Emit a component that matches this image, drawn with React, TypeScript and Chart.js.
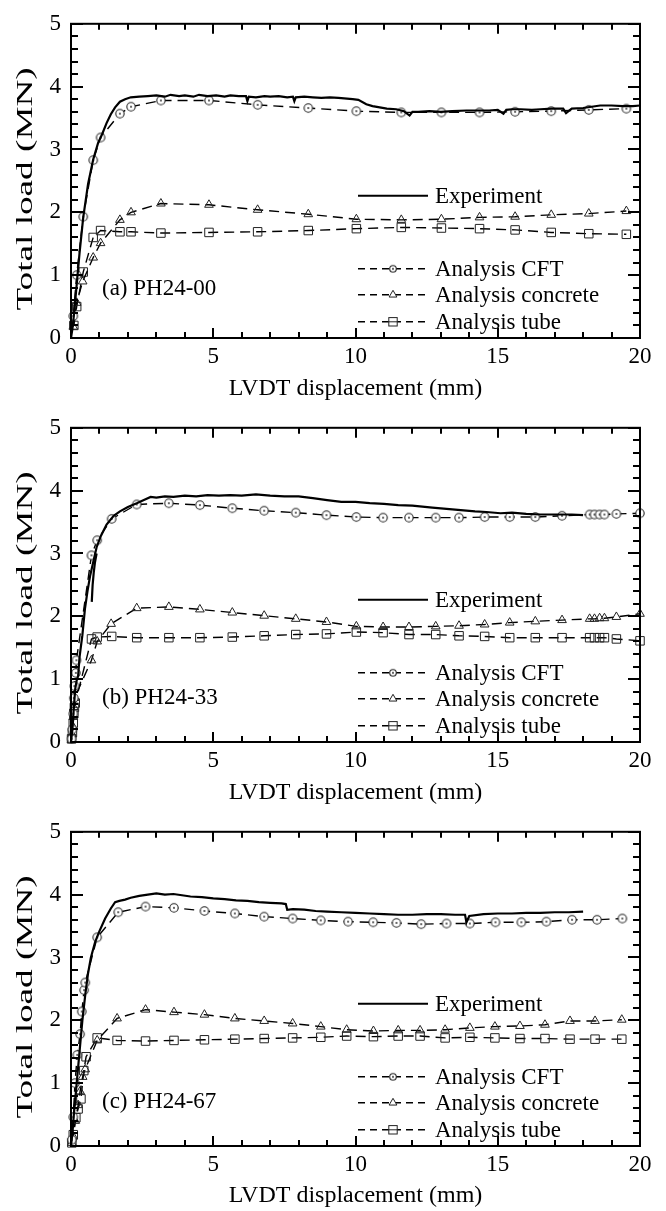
import React, { useEffect, useRef } from "react";
import { Chart, registerables } from "chart.js";

Chart.register(...registerables);

// ---------------- Axis ticks ----------------
const xTicks = [0, 5, 10, 15, 20];
const yTicks = [0, 1, 2, 3, 4, 5];
const xMinorTicks = [0, 1, 2, 3, 4, 5, 6, 7, 8, 9, 10, 11, 12, 13, 14, 15, 16, 17, 18, 19, 20];
const yMinorTicks = [0, 0.2, 0.4, 0.6, 0.8, 1, 1.2, 1.4, 1.6, 1.8, 2, 2.2, 2.4, 2.6, 2.8, 3, 3.2, 3.4, 3.6, 3.8, 4, 4.2, 4.4, 4.6, 4.8, 5];

const legendLabels = ["Experiment", "Analysis CFT", "Analysis concrete", "Analysis tube"];
const panelTitles = ["(a) PH24-00", "(b) PH24-33", "(c) PH24-67"];
const xAxisTitle = "LVDT displacement (mm)";
const yAxisTitle = "Total load (MN)";

// ---------------- Panel (a) PH24-00 ----------------
const expA_x = [0, 0.05, 0.1, 0.2, 0.3, 0.43, 0.6, 0.78, 0.95, 1.1, 1.25, 1.4, 1.55, 1.72, 1.9, 2.1, 2.4, 2.7, 3.0, 3.3, 3.5, 3.8, 4.0, 4.3, 4.5, 4.8, 5.1, 5.4, 5.6, 5.9, 6.15, 6.2, 6.25, 6.5, 6.8, 7.0, 7.3, 7.6, 7.8, 7.85, 7.9, 8.2, 8.5, 8.8, 9.1, 9.4, 9.7, 9.9, 10.1, 10.38, 10.6, 10.85, 11.1, 11.43, 11.7, 11.9, 12.0, 12.2, 12.6, 13.0, 13.4, 13.9, 14.3, 14.7, 15.0, 15.2, 15.3, 15.5, 15.8, 16.2, 16.5, 16.9, 17.3, 17.4, 17.6, 18.0, 18.3, 18.6, 19.0, 19.4, 19.75, 20.0];
const expA_y = [0, 0.15, 0.35, 0.85, 1.35, 1.92, 2.45, 2.84, 3.1, 3.25, 3.42, 3.56, 3.67, 3.76, 3.8, 3.83, 3.84, 3.85, 3.86, 3.84, 3.87, 3.85, 3.86, 3.84, 3.87, 3.85, 3.86, 3.84, 3.86, 3.85, 3.85, 3.77, 3.84, 3.83, 3.85, 3.84, 3.85, 3.83, 3.84, 3.77, 3.83, 3.84, 3.83, 3.82, 3.83, 3.82, 3.81, 3.8, 3.79, 3.72, 3.69, 3.67, 3.65, 3.64, 3.61, 3.54, 3.6, 3.6, 3.61, 3.6, 3.61, 3.62, 3.62, 3.62, 3.63, 3.57, 3.63, 3.64, 3.64, 3.63, 3.64, 3.65, 3.65, 3.58, 3.65, 3.66, 3.68, 3.7, 3.7, 3.69, 3.69, 3.7];

const cftA_x = [0.08, 0.2, 0.43, 0.78, 1.04, 1.72, 2.11, 3.16, 4.85, 6.56, 8.34, 10.03, 11.61, 13.02, 14.36, 15.61, 16.88, 18.2, 19.52];
const cftA_y = [0.35, 1.0, 1.93, 2.83, 3.19, 3.57, 3.68, 3.78, 3.78, 3.71, 3.66, 3.61, 3.59, 3.59, 3.59, 3.6, 3.61, 3.63, 3.65];

const conA_x = [0.08, 0.2, 0.41, 0.78, 1.04, 1.72, 2.11, 3.16, 4.85, 6.56, 8.34, 10.03, 11.61, 13.02, 14.36, 15.61, 16.88, 18.2, 19.52];
const conA_y = [0.18, 0.56, 0.9, 1.28, 1.51, 1.88, 2.0, 2.14, 2.12, 2.04, 1.97, 1.89, 1.88, 1.89, 1.92, 1.93, 1.96, 1.98, 2.02];

const tubA_x = [0.1, 0.2, 0.43, 0.78, 1.04, 1.72, 2.11, 3.16, 4.85, 6.56, 8.34, 10.03, 11.61, 13.02, 14.36, 15.61, 16.88, 18.2, 19.52];
const tubA_y = [0.2, 0.5, 1.05, 1.6, 1.71, 1.69, 1.69, 1.67, 1.68, 1.69, 1.71, 1.74, 1.76, 1.75, 1.74, 1.72, 1.68, 1.66, 1.65];

// ---------------- Panel (b) PH24-33 ----------------
const expB_x = [0, 0.05, 0.1, 0.15, 0.2, 0.25, 0.3, 0.4, 0.49, 0.58, 0.67, 0.8, 0.9, 1.05, 1.25, 1.5, 1.72, 2.0, 2.31, 2.6, 2.8, 3.0, 3.3, 3.6, 4.0, 4.4, 4.8, 5.2, 5.6, 6.0, 6.5, 7.0, 7.5, 8.0, 8.5, 9.0, 9.5, 10.0, 10.5, 11.0, 11.5, 12.0, 12.7, 13.2, 13.7, 14.2, 14.6, 15.1, 15.5, 16.0, 16.5, 17.0, 17.6, 18.0];
const expB_y = [0, 0.2, 0.55, 0.85, 0.98, 1.05, 1.35, 1.7, 2.12, 2.4, 2.64, 2.9, 3.1, 3.28, 3.46, 3.6, 3.67, 3.74, 3.8, 3.86, 3.9, 3.89, 3.91, 3.9, 3.92, 3.91, 3.93, 3.92, 3.93, 3.92, 3.94, 3.92, 3.91, 3.91, 3.88, 3.85, 3.82, 3.82, 3.8, 3.79, 3.77, 3.76, 3.73, 3.71, 3.69, 3.67, 3.66, 3.64, 3.65, 3.63, 3.62, 3.62, 3.62, 3.61];
const expB2_x = [0.73, 0.76, 0.8, 0.84, 0.9];
const expB2_y = [2.23, 2.5, 2.7, 2.85, 3.0];

const cftB_x = [0.02, 0.05, 0.08, 0.1, 0.12, 0.17, 0.19, 0.72, 0.92, 1.43, 2.31, 3.44, 4.53, 5.67, 6.79, 7.9, 8.98, 10.03, 10.97, 11.88, 12.82, 13.64, 14.54, 15.42, 16.32, 17.26, 18.23, 18.4, 18.58, 18.75, 19.17, 20.0];
const cftB_y = [0.05, 0.2, 0.45, 0.7, 0.89, 1.1, 1.3, 2.97, 3.21, 3.55, 3.78, 3.8, 3.77, 3.72, 3.68, 3.65, 3.61, 3.58, 3.57, 3.57, 3.57, 3.57, 3.58, 3.58, 3.58, 3.6, 3.62, 3.62, 3.62, 3.62, 3.63, 3.64];

const conB_x = [0.02, 0.04, 0.06, 0.08, 0.1, 0.12, 0.72, 0.92, 1.41, 2.31, 3.44, 4.53, 5.67, 6.79, 7.9, 8.98, 10.03, 10.97, 11.88, 12.82, 13.64, 14.54, 15.42, 16.32, 17.26, 18.23, 18.4, 18.58, 18.75, 19.17, 20.0];
const conB_y = [0.03, 0.12, 0.25, 0.4, 0.55, 0.7, 1.3, 1.6, 1.88, 2.13, 2.15, 2.11, 2.06, 2.01, 1.96, 1.91, 1.84, 1.83, 1.83, 1.84, 1.85, 1.87, 1.9, 1.92, 1.94, 1.96, 1.96, 1.97, 1.97, 1.99, 2.04];

const tubB_x = [0.02, 0.05, 0.08, 0.1, 0.12, 0.15, 0.72, 0.92, 1.43, 2.31, 3.44, 4.53, 5.67, 6.79, 7.9, 8.98, 10.03, 10.97, 11.88, 12.82, 13.64, 14.54, 15.42, 16.32, 17.26, 18.23, 18.4, 18.58, 18.75, 19.17, 20.0];
const tubB_y = [0.05, 0.15, 0.3, 0.45, 0.55, 0.62, 1.64, 1.67, 1.68, 1.66, 1.66, 1.66, 1.67, 1.69, 1.71, 1.72, 1.75, 1.74, 1.71, 1.71, 1.69, 1.68, 1.66, 1.66, 1.66, 1.66, 1.66, 1.66, 1.66, 1.64, 1.61];

// ---------------- Panel (c) PH24-67 ----------------
const expC_x = [0, 0.05, 0.1, 0.2, 0.3, 0.4, 0.5, 0.6, 0.7, 0.85, 1.0, 1.2, 1.4, 1.55, 1.7, 1.9, 2.1, 2.4, 2.7, 3.0, 3.3, 3.6, 3.9, 4.2, 4.6, 5.0, 5.4, 5.8, 6.2, 6.6, 7.0, 7.4, 7.55, 7.6, 7.8, 8.2, 8.6, 9.0, 9.5, 10.0, 10.5, 11.0, 11.5, 12.0, 12.5, 13.0, 13.5, 13.85, 13.9, 14.0, 14.5, 15.0, 15.5, 16.0, 16.5, 17.0, 17.5, 18.0];
const expC_y = [0, 0.2, 0.5, 1.0, 1.5, 2.0, 2.4, 2.75, 3.0, 3.25, 3.42, 3.62, 3.78, 3.88, 3.9, 3.92, 3.95, 3.98, 4.0, 4.02, 4.0, 4.01, 3.99, 3.97, 3.96, 3.94, 3.93, 3.91, 3.9, 3.88, 3.87, 3.86, 3.85, 3.76, 3.77, 3.76, 3.74, 3.73, 3.72, 3.71, 3.7, 3.69, 3.68, 3.68, 3.69, 3.69, 3.68, 3.68, 3.56, 3.66, 3.69, 3.7, 3.7, 3.71, 3.71, 3.72, 3.72, 3.73];

const cftC_x = [0.03, 0.08, 0.14, 0.22, 0.32, 0.38, 0.46, 0.5, 0.92, 1.66, 2.62, 3.62, 4.69, 5.76, 6.79, 7.79, 8.78, 9.74, 10.62, 11.44, 12.31, 13.2, 14.02, 14.92, 15.83, 16.71, 17.61, 18.49, 19.38];
const cftC_y = [0.1, 0.46, 1.0, 1.45, 1.78, 2.14, 2.48, 2.6, 3.32, 3.72, 3.81, 3.79, 3.74, 3.7, 3.65, 3.62, 3.59, 3.57, 3.56, 3.55, 3.53, 3.54, 3.54, 3.56, 3.56, 3.57, 3.6, 3.6, 3.62];

const conC_x = [0.03, 0.08, 0.15, 0.25, 0.32, 0.41, 0.5, 0.92, 1.62, 2.62, 3.62, 4.69, 5.76, 6.79, 7.79, 8.78, 9.69, 10.63, 11.5, 12.27, 13.15, 14.02, 14.9, 15.78, 16.66, 17.54, 18.42, 19.36];
const conC_y = [0.05, 0.15, 0.4, 0.65, 0.87, 1.1, 1.22, 1.68, 2.03, 2.17, 2.13, 2.09, 2.03, 1.99, 1.95, 1.9, 1.85, 1.83, 1.84, 1.84, 1.85, 1.88, 1.9, 1.91, 1.93, 1.99, 1.99, 2.01];

const tubC_x = [0.03, 0.08, 0.17, 0.25, 0.35, 0.45, 0.53, 0.92, 1.62, 2.62, 3.62, 4.69, 5.76, 6.79, 7.79, 8.78, 9.69, 10.63, 11.5, 12.27, 13.15, 14.02, 14.9, 15.78, 16.66, 17.54, 18.42, 19.36];
const tubC_y = [0.05, 0.18, 0.45, 0.59, 0.75, 1.2, 1.42, 1.72, 1.68, 1.67, 1.68, 1.69, 1.7, 1.71, 1.72, 1.73, 1.75, 1.74, 1.75, 1.75, 1.72, 1.73, 1.72, 1.71, 1.71, 1.7, 1.7, 1.7];

// ---------------- Rendering ----------------
const FONT = "'Liberation Serif', 'Times New Roman', serif";
const TXT = "#000";
const PLOT_LEFT = 71;
const PLOT_RIGHT = 640;
const PLOT_TOP = 13;
const PLOT_BOTTOM = 338;
const DASH = [10, 6];

type PanelCfg = {
  title: string;
  exp: [number[], number[]][];
  cft: [number[], number[]];
  con: [number[], number[]];
  tub: [number[], number[]];
  labelDy: number;
};

const panels: PanelCfg[] = [
  { title: panelTitles[0], exp: [[expA_x, expA_y]], cft: [cftA_x, cftA_y], con: [conA_x, conA_y], tub: [tubA_x, tubA_y], labelDy: 265 },
  { title: panelTitles[1], exp: [[expB_x, expB_y], [expB2_x, expB2_y]], cft: [cftB_x, cftB_y], con: [conB_x, conB_y], tub: [tubB_x, tubB_y], labelDy: 270 },
  { title: panelTitles[2], exp: [[expC_x, expC_y]], cft: [cftC_x, cftC_y], con: [conC_x, conC_y], tub: [tubC_x, tubC_y], labelDy: 270 },
];

function pts(xs: number[], ys: number[]) {
  return xs.map((x, i) => ({ x, y: ys[i] }));
}

function makeCircleDot(r: number) {
  const s = Math.ceil(r * 2 + 3);
  const c = document.createElement("canvas");
  c.width = s;
  c.height = s;
  const g = c.getContext("2d")!;
  g.beginPath();
  g.arc(s / 2, s / 2, r, 0, Math.PI * 2);
  g.fillStyle = "#fff";
  g.fill();
  g.lineWidth = 1.1;
  g.strokeStyle = "#222";
  g.stroke();
  g.beginPath();
  g.arc(s / 2, s / 2, 0.9, 0, Math.PI * 2);
  g.fillStyle = "#222";
  g.fill();
  return c;
}

function drawMarker(ctx: CanvasRenderingContext2D, kind: string, x: number, y: number, img: HTMLCanvasElement | null, r: number) {
  ctx.save();
  ctx.setLineDash([]);
  ctx.strokeStyle = "#222";
  ctx.lineWidth = 1;
  if (kind === "circle" && img) {
    ctx.drawImage(img, x - img.width / 2, y - img.height / 2);
  } else if (kind === "triangle") {
    ctx.beginPath();
    ctx.moveTo(x, y - r);
    ctx.lineTo(x + r * 0.866, y + r * 0.5);
    ctx.lineTo(x - r * 0.866, y + r * 0.5);
    ctx.closePath();
    ctx.fillStyle = "#fff";
    ctx.fill();
    ctx.stroke();
  } else if (kind === "rect") {
    const h = r * 0.7;
    ctx.fillStyle = "#fff";
    ctx.fillRect(x - h, y - h, 2 * h, 2 * h);
    ctx.strokeRect(x - h, y - h, 2 * h, 2 * h);
    ctx.beginPath();
    ctx.moveTo(x - h, y);
    ctx.lineTo(x + h, y);
    ctx.stroke();
  }
  ctx.restore();
}

const decorPlugin = {
  id: "decor",
  afterDraw(chart: any) {
    const { ctx, chartArea, scales } = chart;
    const { left, right, top, bottom } = chartArea;
    const opts = chart.options.plugins.decor;
    const xs = scales.x;
    const ys = scales.y;
    ctx.save();
    ctx.strokeStyle = "#000";
    ctx.lineWidth = 2;
    ctx.setLineDash([]);
    // frame
    ctx.strokeRect(left, top, right - left, bottom - top);
    // inward ticks on all four sides
    ctx.beginPath();
    xMinorTicks.forEach((v) => {
      const px = Math.round(xs.getPixelForValue(v));
      const len = xTicks.includes(v) ? 10 : 6;
      ctx.moveTo(px, bottom);
      ctx.lineTo(px, bottom - len);
      ctx.moveTo(px, top);
      ctx.lineTo(px, top + len);
    });
    yMinorTicks.forEach((v) => {
      const py = Math.round(ys.getPixelForValue(v));
      const len = yTicks.includes(v) ? 12 : 7;
      ctx.moveTo(left, py);
      ctx.lineTo(left + len, py);
      ctx.moveTo(right, py);
      ctx.lineTo(right - len, py);
    });
    ctx.stroke();

    // y axis title (drawn stretched along its length like the reference)
    ctx.save();
    ctx.fillStyle = TXT;
    ctx.font = `24px ${FONT}`;
    ctx.textAlign = "center";
    ctx.textBaseline = "middle";
    ctx.translate(26, (top + bottom) / 2 + 8);
    ctx.rotate(-Math.PI / 2);
    ctx.scale(1.55, 1);
    ctx.fillText(yAxisTitle, 0, 0);
    ctx.restore();

    // legend
    const lx1 = 358;
    const lx2 = 428;
    const tx = 435;
    const rows = [top + 172, top + 245, top + 271, top + 298];
    ctx.font = `23px ${FONT}`;
    ctx.fillStyle = TXT;
    ctx.textBaseline = "middle";
    ctx.textAlign = "left";
    rows.forEach((ry, i) => {
      ctx.save();
      ctx.strokeStyle = "#000";
      if (i === 0) {
        ctx.lineWidth = 2;
        ctx.setLineDash([]);
      } else {
        ctx.lineWidth = 1.4;
        ctx.setLineDash([7, 5]);
      }
      ctx.beginPath();
      ctx.moveTo(lx1, ry);
      ctx.lineTo(lx2, ry);
      ctx.stroke();
      ctx.restore();
      if (i === 1) drawMarker(ctx, "circle", (lx1 + lx2) / 2, ry, opts.smallDot, 3);
      if (i === 2) drawMarker(ctx, "triangle", (lx1 + lx2) / 2, ry, null, 4.5);
      if (i === 3) drawMarker(ctx, "rect", (lx1 + lx2) / 2, ry, null, 6);
      ctx.fillText(legendLabels[i], tx, ry + 1);
    });

    // panel label
    ctx.fillText(opts.title, left + 31, top + opts.labelDy);
    ctx.restore();
  },
};

function Panel({ cfg, height }: { cfg: PanelCfg; height: number }) {
  const ref = useRef<HTMLCanvasElement>(null);
  useEffect(() => {
    const dot = makeCircleDot(4.2);
    const smallDot = makeCircleDot(3.3);
    const analysis = (d: [number[], number[]], style: any) => ({
      data: pts(d[0], d[1]),
      borderColor: "#000",
      borderWidth: 1.4,
      borderDash: DASH,
      tension: 0,
      clip: false,
      pointBorderColor: "#222",
      pointBorderWidth: 1,
      pointBackgroundColor: "rgba(0,0,0,0)",
      ...style,
    });
    const datasets: any[] = [];
    cfg.exp.forEach((e) => {
      datasets.push({
        data: pts(e[0], e[1]),
        borderColor: "#000",
        borderWidth: 2.2,
        pointRadius: 0,
        tension: 0,
        clip: false,
      });
    });
    datasets.push(analysis(cfg.cft, { pointStyle: dot, pointRadius: 4 }));
    datasets.push(analysis(cfg.con, { pointStyle: "triangle", pointRadius: 5 }));
    datasets.push(analysis(cfg.tub, { pointStyle: "rect", pointRadius: 6 }));

    const chart = new Chart(ref.current!, {
      type: "line",
      data: { datasets },
      plugins: [decorPlugin as any],
      options: {
        responsive: false,
        devicePixelRatio: 1,
        animation: false,
        events: [],
        layout: { padding: { left: 0, top: PLOT_TOP, right: 666 - PLOT_RIGHT, bottom: 0 } },
        plugins: {
          legend: { display: false },
          tooltip: { enabled: false },
          decor: { title: cfg.title, labelDy: cfg.labelDy, smallDot },
        } as any,
        scales: {
          x: {
            type: "linear",
            min: 0,
            max: 20,
            grid: { display: false, drawTicks: false },
            border: { display: false },
            afterBuildTicks: (s: any) => {
              s.ticks = xTicks.map((v) => ({ value: v }));
            },
            afterFit: (s: any) => {
              s.height = height - PLOT_BOTTOM;
            },
            ticks: {
              font: { family: FONT, size: 23 },
              color: TXT,
              padding: 5,
              maxRotation: 0,
              autoSkip: false,
            },
            title: {
              display: true,
              text: xAxisTitle,
              font: { family: FONT, size: 24 },
              color: TXT,
              padding: { top: 0, bottom: 1 },
            },
          },
          y: {
            type: "linear",
            min: 0,
            max: 5,
            grid: { display: false, drawTicks: false },
            border: { display: false },
            afterBuildTicks: (s: any) => {
              s.ticks = yTicks.map((v) => ({ value: v }));
            },
            afterFit: (s: any) => {
              s.width = PLOT_LEFT;
            },
            ticks: {
              font: { family: FONT, size: 23 },
              color: TXT,
              padding: 10,
              autoSkip: false,
            },
            title: { display: false },
          },
        },
      } as any,
    });
    return () => chart.destroy();
  }, [cfg, height]);
  return <canvas ref={ref} width={666} height={height} style={{ display: "block", width: 666, height }} />;
}

export default function App() {
  return (
    <div style={{ position: "absolute", left: 0, top: 0, width: 666, height: 1211, background: "#fff" }}>
      <Panel cfg={panels[0]} height={404} />
      <Panel cfg={panels[1]} height={404} />
      <Panel cfg={panels[2]} height={403} />
    </div>
  );
}
